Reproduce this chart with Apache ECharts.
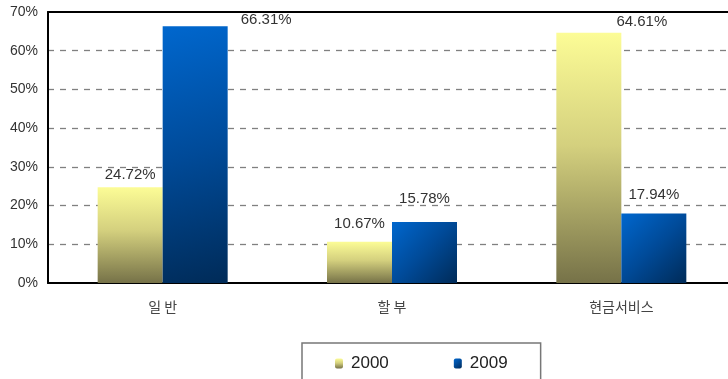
<!DOCTYPE html>
<html>
<head>
<meta charset="utf-8">
<script src="https://cdn.jsdelivr.net/npm/echarts@6/dist/echarts.min.js"></script>
<style>
  html, body { margin: 0; padding: 0; background: #fff; }
  #chart { width: 728px; height: 379px; }
</style>
</head>
<body>
<div id="chart"></div>
<script>
// Card usage share by type, 2000 vs 2009
const categories = ['일 반', '할 부', '현금서비스'];
const seriesNames = ['2000', '2009'];
const values2000 = [24.72, 10.67, 64.61];
const values2009 = [66.31, 15.78, 17.94];
const yTicks = [0, 10, 20, 30, 40, 50, 60, 70];

const latin = '"Liberation Sans", Arial, Helvetica, sans-serif';
const korean = '"Noto Sans CJK KR", "Liberation Sans", sans-serif';

const yellowFill = {
  type: 'linear', x: 0, y: 0, x2: 0, y2: 1,
  colorStops: [
    { offset: 0, color: '#fcfc96' },
    { offset: 0.45, color: '#d4d07e' },
    { offset: 1, color: '#767248' }
  ]
};
const blueFill = {
  type: 'linear', x: 0, y: 0, x2: 1, y2: 1,
  colorStops: [
    { offset: 0, color: '#0067ce' },
    { offset: 0.5, color: '#004a98' },
    { offset: 1, color: '#002b58' }
  ]
};

// Per-bar label nudges; the tallest bars carry their label beside the top
const labelShift2000 = [null, [0, -5], [53, 1]];
const labelShift2009 = [[71, 6], [0, -11], [0, -6]];

function barData(values, shifts) {
  return values.map((v, i) => {
    const item = { value: v };
    if (shifts[i]) item.label = { offset: shifts[i] };
    return item;
  });
}

const labelStyle = {
  show: true,
  position: 'top',
  distance: 5,
  color: '#333',
  fontFamily: latin,
  fontSize: 15,
  formatter: p => p.value.toFixed(2) + '%'
};

const chart = echarts.init(document.getElementById('chart'), null, { renderer: 'canvas' });
chart.setOption({
  animation: false,
  backgroundColor: '#ffffff',
  // plot area runs a little past the right edge of the canvas
  grid: { left: 48, top: 12, width: 688, height: 271, outerBoundsMode: 'none', containLabel: false },
  legend: {
    data: seriesNames,
    left: 302,
    top: 343,
    orient: 'horizontal',
    padding: [12, 33, 24, 33],
    itemGap: 65,
    itemWidth: 8,
    itemHeight: 10,
    borderColor: '#777',
    borderWidth: 1.5,
    textStyle: { color: '#222', fontFamily: latin, fontSize: 17, padding: [0, 0, 0, 3] }
  },
  xAxis: [
    {
      type: 'category',
      data: categories,
      position: 'bottom',
      axisLine: { show: true, lineStyle: { color: '#000', width: 2 } },
      axisTick: { show: false },
      axisLabel: { color: '#444', fontFamily: korean, fontSize: 14, margin: 17 },
      splitLine: { show: false }
    },
    {
      type: 'category',
      data: categories,
      position: 'top',
      axisLine: { show: true, lineStyle: { color: '#000', width: 2 } },
      axisTick: { show: false },
      axisLabel: { show: false },
      splitLine: { show: false }
    }
  ],
  yAxis: {
    type: 'value',
    min: yTicks[0],
    max: yTicks[yTicks.length - 1],
    interval: 10,
    axisLine: { show: true, lineStyle: { color: '#000', width: 2 } },
    axisTick: { show: false },
    axisLabel: {
      color: '#333', fontFamily: latin, fontSize: 14, margin: 10,
      formatter: v => v + '%'
    },
    splitLine: {
      show: true,
      showMinLine: false,
      showMaxLine: false,
      lineStyle: { color: '#808080', type: [6, 6], width: 1.3 }
    }
  },
  series: [
    {
      name: seriesNames[0],
      type: 'bar',
      barWidth: 65,
      barGap: '0%',
      data: barData(values2000, labelShift2000),
      itemStyle: { color: yellowFill },
      label: labelStyle
    },
    {
      name: seriesNames[1],
      type: 'bar',
      barWidth: 65,
      barGap: '0%',
      data: barData(values2009, labelShift2009),
      itemStyle: { color: blueFill },
      label: labelStyle
    }
  ]
});
</script>
</body>
</html>
